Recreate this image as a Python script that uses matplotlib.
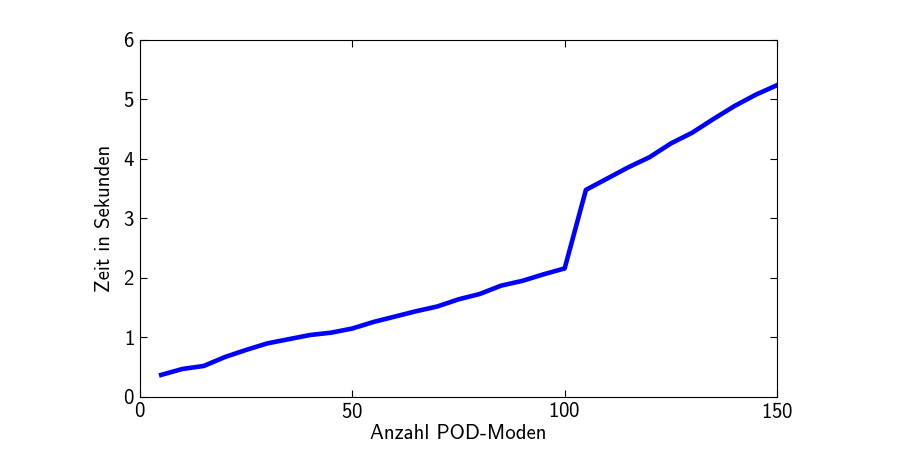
import matplotlib
matplotlib.use('Agg')
import matplotlib.pyplot as plt

# Laufzeit über Anzahl der POD-Moden
modes = [5, 10, 15, 20, 25, 30, 35, 40, 45, 50, 55, 60, 65, 70, 75,
         80, 85, 90, 95, 100, 105, 110, 115, 120, 125, 130, 135, 140, 145, 150]
seconds = [0.37, 0.47, 0.52, 0.67, 0.79, 0.90, 0.97, 1.04, 1.08, 1.15,
           1.26, 1.35, 1.44, 1.52, 1.64, 1.73, 1.87, 1.95, 2.06, 2.16,
           3.48, 3.67, 3.86, 4.03, 4.26, 4.44, 4.67, 4.89, 5.08, 5.24]

plt.rcParams['font.family'] = ['cmss10', 'DejaVu Sans']
plt.rcParams['axes.formatter.use_mathtext'] = True
plt.rcParams['font.size'] = 15

fig = plt.figure(figsize=(9.03, 4.49), dpi=100)
ax = fig.add_axes([0.155, 0.116, 0.7055, 0.795])
ax.plot(modes, seconds, color='#0000ff', linewidth=3.3)

ax.set_xlim(0, 150)
ax.set_ylim(0, 6)
ax.set_xticks([0, 50, 100, 150])
ax.set_yticks(range(7))
ax.tick_params(direction='in', top=True, right=True, length=5, width=0.8, pad=4)
ax.set_xlabel('Anzahl POD-Moden', labelpad=1)
ax.set_ylabel('Zeit in Sekunden', labelpad=6)

fig.savefig('out.png', dpi=100)
